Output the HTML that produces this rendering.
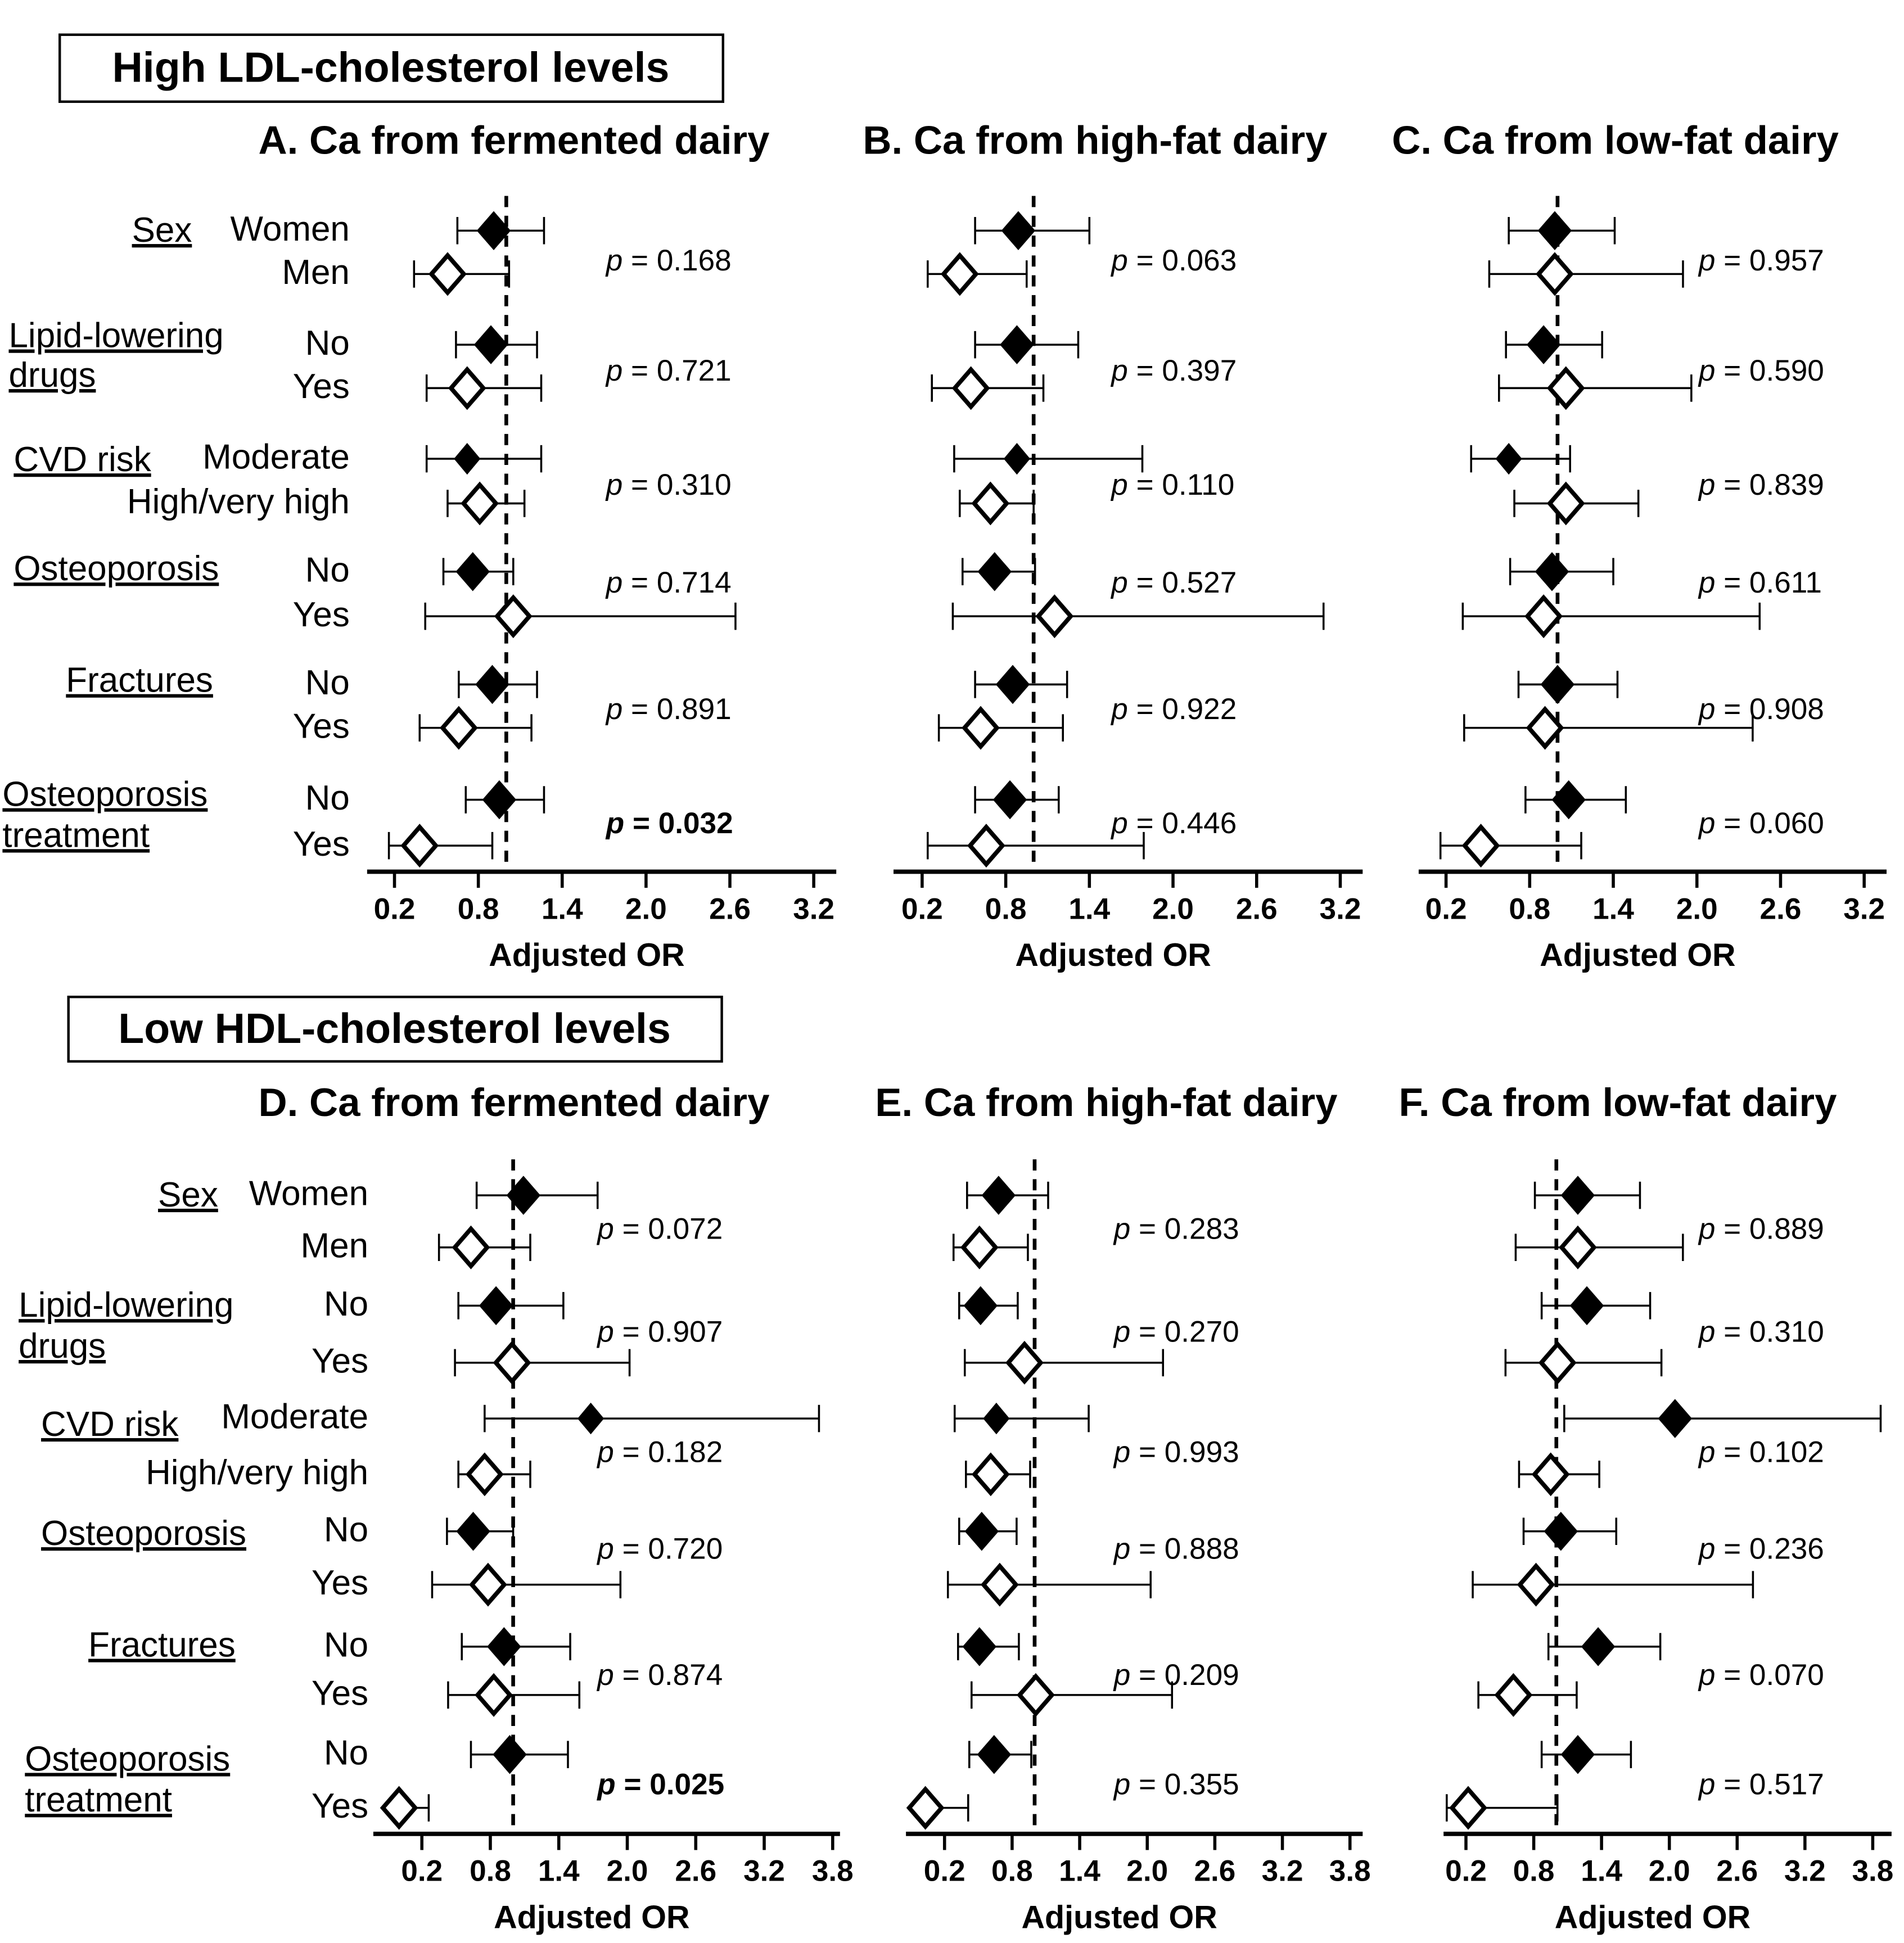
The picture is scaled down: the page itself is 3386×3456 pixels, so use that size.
<!DOCTYPE html>
<html><head><meta charset="utf-8"><style>
html,body{margin:0;padding:0;background:#fff}
svg{display:block}
text{font-family:"Liberation Sans",Arial,sans-serif;fill:#000}
</style></head><body>
<svg id="chart" width="3386" height="3456" viewBox="0 0 1530 1567" preserveAspectRatio="none" xmlns="http://www.w3.org/2000/svg">
<rect x="0" y="0" width="1530" height="1567" fill="#fff"/>
<g>
<rect x="48" y="28" width="533" height="54" fill="none" stroke="#000" stroke-width="2"/>
<text x="314" y="66" text-anchor="middle" font-size="34" font-weight="bold">High LDL-cholesterol levels</text>
</g>
<g>
<rect x="55" y="804" width="525" height="52" fill="none" stroke="#000" stroke-width="2"/>
<text x="317" y="841" text-anchor="middle" font-size="34" font-weight="bold">Low HDL-cholesterol levels</text>
</g>
<g id="panels"></g>
</svg>
<script>
// ---- Shared category labels ----
const groupNames = ["Sex","Lipid-lowering|drugs","CVD risk","Osteoporosis","Fractures","Osteoporosis|treatment"];
const levelNames = [["Women","Men"],["No","Yes"],["Moderate","High/very high"],["No","Yes"],["No","Yes"],["No","Yes"]];

// ---- Panel A: point, lower, upper per subgroup row ----
const aPoint = [0.91,0.58,0.89,0.72,0.72,0.81,0.76,1.05,0.90,0.66,0.95,0.38];
const aLow   = [0.65,0.34,0.64,0.43,0.43,0.58,0.55,0.42,0.66,0.38,0.71,0.16];
const aHigh  = [1.27,1.02,1.22,1.25,1.25,1.13,1.05,2.64,1.22,1.18,1.27,0.90];
const aP     = ["0.168","0.721","0.310","0.714","0.891","0.032"];
// ---- Panel B ----
const bPoint = [0.89,0.47,0.88,0.55,0.88,0.69,0.72,1.15,0.85,0.62,0.83,0.66];
const bLow   = [0.58,0.24,0.58,0.27,0.43,0.47,0.49,0.42,0.58,0.32,0.58,0.24];
const bHigh  = [1.40,0.95,1.32,1.07,1.78,1.00,1.01,3.08,1.24,1.21,1.18,1.79];
const bP     = ["0.063","0.397","0.110","0.527","0.922","0.446"];
// ---- Panel C ----
const cPoint = [0.98,0.98,0.90,1.06,0.65,1.06,0.96,0.90,1.00,0.91,1.08,0.45];
const cLow   = [0.65,0.51,0.63,0.58,0.38,0.69,0.66,0.32,0.72,0.33,0.77,0.16];
const cHigh  = [1.41,1.90,1.32,1.96,1.09,1.58,1.40,2.45,1.43,2.40,1.49,1.17];
const cP     = ["0.957","0.590","0.839","0.611","0.908","0.060"];
// ---- Panel D ----
const dPoint = [1.09,0.63,0.85,0.99,1.68,0.75,0.65,0.78,0.92,0.83,0.97,0.00];
const dLow   = [0.68,0.35,0.52,0.49,0.75,0.52,0.42,0.29,0.55,0.43,0.63,0.00];
const dHigh  = [1.74,1.15,1.44,2.02,3.68,1.15,1.00,1.94,1.50,1.58,1.48,0.26];
const dP     = ["0.072","0.907","0.182","0.720","0.874","0.025"];
// ---- Panel E ----
const ePoint = [0.68,0.51,0.52,0.91,0.66,0.61,0.53,0.69,0.51,1.01,0.64,0.03];
const eLow   = [0.40,0.28,0.33,0.38,0.29,0.39,0.33,0.23,0.32,0.44,0.42,0.03];
const eHigh  = [1.12,0.94,0.85,2.14,1.48,0.96,0.84,2.03,0.86,2.22,0.97,0.41];
const eP     = ["0.283","0.270","0.993","0.888","0.209","0.355"];
// ---- Panel F ----
const fPoint = [1.19,1.19,1.27,1.01,2.05,0.95,1.04,0.82,1.37,0.62,1.19,0.22];
const fLow   = [0.81,0.64,0.87,0.55,1.07,0.67,0.71,0.26,0.93,0.31,0.87,0.03];
const fHigh  = [1.74,2.12,1.83,1.93,3.87,1.38,1.53,2.74,1.92,1.18,1.66,1.01];
const fP     = ["0.889","0.310","0.102","0.236","0.070","0.517"];

const topTicks = [0.2,0.8,1.4,2.0,2.6,3.2];
const botTicks = [0.2,0.8,1.4,2.0,2.6,3.2,3.8];

const NS="http://www.w3.org/2000/svg";
const root=document.getElementById('panels');
function mk(tag,attrs,parent,txt){const e=document.createElementNS(NS,tag);for(const k in attrs)e.setAttribute(k,attrs[k]);if(txt!==undefined)e.textContent=txt;(parent||root).appendChild(e);return e;}

const topRows=[186,221,278,313,370,406,461,497,552,587,645,682];
const botRows=[964,1006,1053,1099,1144,1189,1235,1278,1328,1367,1415,1458];
const topPY=[210,299,391,470,572,664];
const botPY=[991,1074,1171,1249,1351,1439];

// group label left x and baseline y (line1, line2)
const topGrp=[[106,195],[7,280,312],[11,380],[11,468],[53,558],[2,650,683]];
const botGrp=[[127,973],[15,1062,1095],[33,1158],[33,1246],[71,1336],[20,1428,1461]];

const panels=[
 {id:'a',title:'A. Ca from fermented dairy',tx:413,ty:124,x0:317,ppu:112.3,axL:295,axR:672,axY:703,top:158,rows:topRows,pts:aPoint,lo:aLow,hi:aHigh,p:aP,py:topPY,px:487,ticks:topTicks,labels:true,lvlX:281,grp:topGrp,bold:5},
 {id:'b',title:'B. Ca from high-fat dairy',tx:880,ty:124,x0:741,ppu:112,axL:718,axR:1095,axY:703,top:158,rows:topRows,pts:bPoint,lo:bLow,hi:bHigh,p:bP,py:topPY,px:893,ticks:topTicks},
 {id:'c',title:'C. Ca from low-fat dairy',tx:1298,ty:124,x0:1162,ppu:112,axL:1140,axR:1516,axY:703,top:158,rows:topRows,pts:cPoint,lo:cLow,hi:cHigh,p:cP,py:topPY,px:1365,ticks:topTicks},
 {id:'d',title:'D. Ca from fermented dairy',tx:413,ty:900,x0:339,ppu:91.7,axL:300,axR:675,axY:1479,top:935,rows:botRows,pts:dPoint,lo:dLow,hi:dHigh,p:dP,py:botPY,px:480,ticks:botTicks,labels:true,lvlX:296,grp:botGrp,bold:5},
 {id:'e',title:'E. Ca from high-fat dairy',tx:889,ty:900,x0:759,ppu:90.5,axL:728,axR:1095,axY:1479,top:935,rows:botRows,pts:ePoint,lo:eLow,hi:eHigh,p:eP,py:botPY,px:895,ticks:botTicks},
 {id:'f',title:'F. Ca from low-fat dairy',tx:1300,ty:900,x0:1178,ppu:90.8,axL:1160,axR:1520,axY:1479,top:935,rows:botRows,pts:fPoint,lo:fLow,hi:fHigh,p:fP,py:botPY,px:1365,ticks:botTicks}
];

panels.forEach(P=>{
 const g=mk('g',{});
 
 
 const X=v=>P.x0+(v-0.2)*P.ppu;
 const t=mk('text',{x:P.tx,y:P.ty,'text-anchor':'middle','font-size':32,'font-weight':'bold'},g,P.title);
 
 
 const rl=mk('line',{x1:X(1),x2:X(1),y1:P.top,y2:P.axY,stroke:'#000','stroke-width':3,'stroke-dasharray':'9,7'},g);
 
 
 const ax=mk('line',{x1:P.axL,x2:P.axR,y1:P.axY,y2:P.axY,stroke:'#000','stroke-width':3.5},g);
 
 
 P.ticks.forEach(v=>{
  const tk=mk('line',{x1:X(v),x2:X(v),y1:P.axY,y2:P.axY+13,stroke:'#000','stroke-width':2.5},g);
  
  
  const tl=mk('text',{x:X(v),y:P.axY+38,'text-anchor':'middle','font-size':24,'font-weight':'bold'},g,v.toFixed(1));
  
  
 });
 const xt=mk('text',{x:(P.axL+P.axR)/2-12,y:P.axY+76,'text-anchor':'middle','font-size':26,'font-weight':'bold'},g,'Adjusted OR');
 
 
 P.pts.forEach((v,i)=>{
  const y=P.rows[i];
  const eb=mk('g',{},g);
  
  
  mk('line',{x1:X(P.lo[i]),x2:X(P.hi[i]),y1:y,y2:y,stroke:'#000','stroke-width':1.6},eb);
  mk('line',{x1:X(P.lo[i]),x2:X(P.lo[i]),y1:y-11,y2:y+11,stroke:'#000','stroke-width':1.6},eb);
  mk('line',{x1:X(P.hi[i]),x2:X(P.hi[i]),y1:y-11,y2:y+11,stroke:'#000','stroke-width':1.6},eb);
  const filled=i%2===0;
  const small=filled && P.id!=='f' && i===4;
  const w=small?10:13, h=small?12:15;
  const x=X(v);
  const d=mk('polygon',{points:`${x},${y-h} ${x+w},${y} ${x},${y+h} ${x-w},${y}`,fill:filled?'#000':'#fff',stroke:'#000','stroke-width':filled?1:3.5},g);
  
  
 });
 P.p.forEach((s,k)=>{
  const bold=(P.bold===k);
  const pt=mk('text',{x:P.px,y:P.py[k]+8,'font-size':24,'font-weight':bold?'bold':'normal'},g);
  
  
  mk('tspan',{'font-style':'italic'},pt,'p');
  mk('tspan',{},pt,' = '+s);
 });
 if(P.labels){
  levelNames.forEach((pair,k)=>{
   pair.forEach((lv,j)=>{
    const lt=mk('text',{x:P.lvlX,y:P.rows[k*2+j]+8,'text-anchor':'end','font-size':28},g,lv);
    
    
   });
   const parts=groupNames[k].split('|');
   const G=P.grp[k];
   parts.forEach((s,j)=>{
    const gl=mk('text',{x:G[0],y:G[1+j],'font-size':28,'text-decoration':'underline'},g,s);
    
    
   });
  });
 }
});
</script>
</body></html>
